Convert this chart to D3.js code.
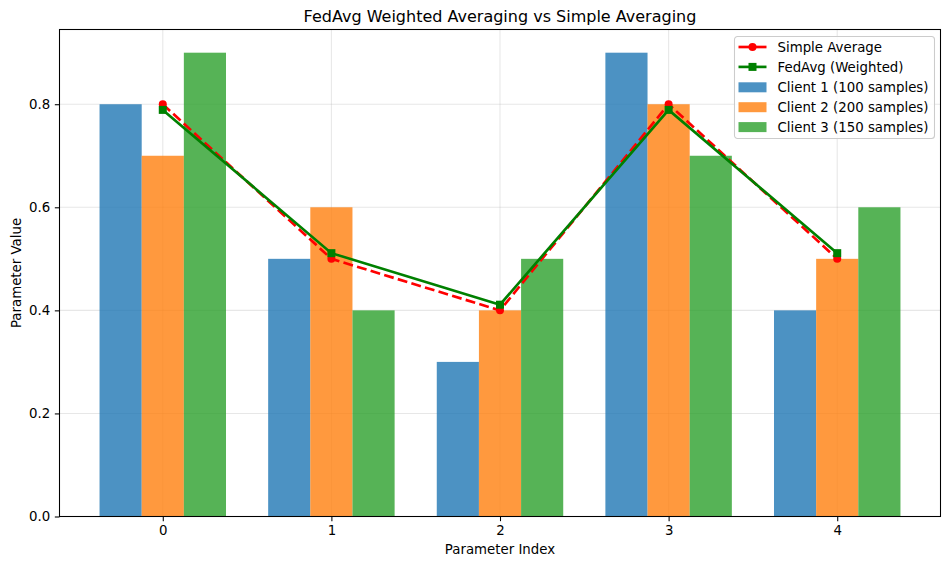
<!DOCTYPE html>
<html><head><meta charset="utf-8">
<script src="https://cdn.jsdelivr.net/npm/d3@7/dist/d3.min.js"></script>
<style>body{margin:0;background:#fff}svg{font-family:"DejaVu Sans",sans-serif}</style>
</head><body><svg id="c" width="950" height="566"></svg>
<script>
const categories = [0, 1, 2, 3, 4];
const client1 = [0.8, 0.5, 0.3, 0.9, 0.4];
const client2 = [0.7, 0.6, 0.4, 0.8, 0.5];
const client3 = [0.9, 0.4, 0.5, 0.7, 0.6];
const simpleAvg = [0.8, 0.5, 0.4, 0.8, 0.5];
const fedAvg = [0.789, 0.511, 0.411, 0.789, 0.511];
const yTicks = [0.0, 0.2, 0.4, 0.6, 0.8];
const seriesNames = ["Client 1 (100 samples)", "Client 2 (200 samples)", "Client 3 (150 samples)"];
const colors = ["#1f77b4", "#ff7f0e", "#2ca02c"];

const svg = d3.select("#c");
const L = 59.5, R = 940.5, T = 29.5, B = 516.5;
const x = d3.scaleLinear().domain([-0.6125, 4.6125]).range([L, R]);
const y = d3.scaleLinear().domain([0, 0.945]).range([B, T]);
const bw = 0.25;
const FS = 13.33;

// grid
const g = svg.append("g");
categories.forEach(c => g.append("line").attr("x1", x(c)).attr("x2", x(c)).attr("y1", T).attr("y2", B).attr("stroke", "#b0b0b0").attr("stroke-opacity", 0.3).attr("stroke-width", 1.07));
yTicks.forEach(t => g.append("line").attr("x1", L).attr("x2", R).attr("y1", y(t)).attr("y2", y(t)).attr("stroke", "#b0b0b0").attr("stroke-opacity", 0.3).attr("stroke-width", 1.07));

// bars
[client1, client2, client3].forEach((s, i) => {
  svg.append("g").selectAll("rect").data(s).join("rect")
    .attr("x", (d, j) => x(categories[j] + (i - 1) * bw - bw / 2))
    .attr("width", x(bw) - x(0))
    .attr("y", d => y(d)).attr("height", d => y(0) - y(d))
    .attr("fill", colors[i]).attr("fill-opacity", 0.8);
});

// lines
const line = d3.line().x((d, j) => x(categories[j])).y(d => y(d));
svg.append("path").datum(simpleAvg).attr("d", line).attr("fill", "none").attr("stroke", "red").attr("stroke-width", 2.67).attr("stroke-dasharray", "9.9,4.3");
svg.append("g").selectAll("circle").data(simpleAvg).join("circle").attr("cx", (d, j) => x(categories[j])).attr("cy", d => y(d)).attr("r", 4).attr("fill", "red");
svg.append("path").datum(fedAvg).attr("d", line).attr("fill", "none").attr("stroke", "green").attr("stroke-width", 2.67);
svg.append("g").selectAll("rect").data(fedAvg).join("rect").attr("x", (d, j) => x(categories[j]) - 4).attr("y", d => y(d) - 4).attr("width", 8).attr("height", 8).attr("fill", "green");

// axes
const xa = svg.append("g").attr("transform", `translate(0,${B})`).call(d3.axisBottom(x).tickValues(categories).tickFormat(d3.format("d")).tickSize(4.67).tickPadding(4.67));
const ya = svg.append("g").attr("transform", `translate(${L},0)`).call(d3.axisLeft(y).tickValues(yTicks).tickFormat(d3.format(".1f")).tickSize(4.67).tickPadding(4.67));
[xa, ya].forEach(a => { a.selectAll("text").attr("font-size", FS).attr("fill", "#000").attr("font-family", "DejaVu Sans"); a.selectAll("line").attr("stroke", "#000").attr("stroke-width", 1.07); a.select(".domain").remove(); });
svg.append("rect").attr("x", L).attr("y", T).attr("width", R - L).attr("height", B - T).attr("fill", "none").attr("stroke", "#000").attr("stroke-width", 1.07);

// labels
svg.append("text").attr("x", (L + R) / 2).attr("y", 22).attr("text-anchor", "middle").attr("font-size", 16).text("FedAvg Weighted Averaging vs Simple Averaging");
svg.append("text").attr("x", (L + R) / 2).attr("y", 554).attr("text-anchor", "middle").attr("font-size", FS).text("Parameter Index");
svg.append("text").attr("transform", `translate(20.5,${(T + B) / 2}) rotate(-90)`).attr("text-anchor", "middle").attr("font-size", FS).text("Parameter Value");

// legend
const lg = svg.append("g").attr("transform", "translate(734.5,36.5)");
lg.append("rect").attr("width", 200).attr("height", 102).attr("rx", 3).attr("fill", "#fff").attr("fill-opacity", 0.8).attr("stroke", "#ccc").attr("stroke-width", 1.07);
const items = [
  {name: "Simple Average", type: "line", color: "red", marker: "circle"},
  {name: "FedAvg (Weighted)", type: "line", color: "green", marker: "square"},
  ...seriesNames.map((n, i) => ({name: n, type: "bar", color: colors[i]}))
];
items.forEach((it, i) => {
  const yy = 10.5 + i * 19.9;
  if (it.type === "line") {
    lg.append("line").attr("x1", 4).attr("x2", 32).attr("y1", yy).attr("y2", yy).attr("stroke", it.color).attr("stroke-width", 2.67);
    if (it.marker === "circle") lg.append("circle").attr("cx", 18).attr("cy", yy).attr("r", 4).attr("fill", it.color);
    else lg.append("rect").attr("x", 14).attr("y", yy - 4).attr("width", 8).attr("height", 8).attr("fill", it.color);
  } else {
    lg.append("rect").attr("x", 4).attr("y", yy - 4.5).attr("width", 28).attr("height", 10).attr("fill", it.color).attr("fill-opacity", 0.8);
  }
  lg.append("text").attr("x", 43).attr("y", yy + 5).attr("font-size", FS).text(it.name);
});
</script></body></html>
